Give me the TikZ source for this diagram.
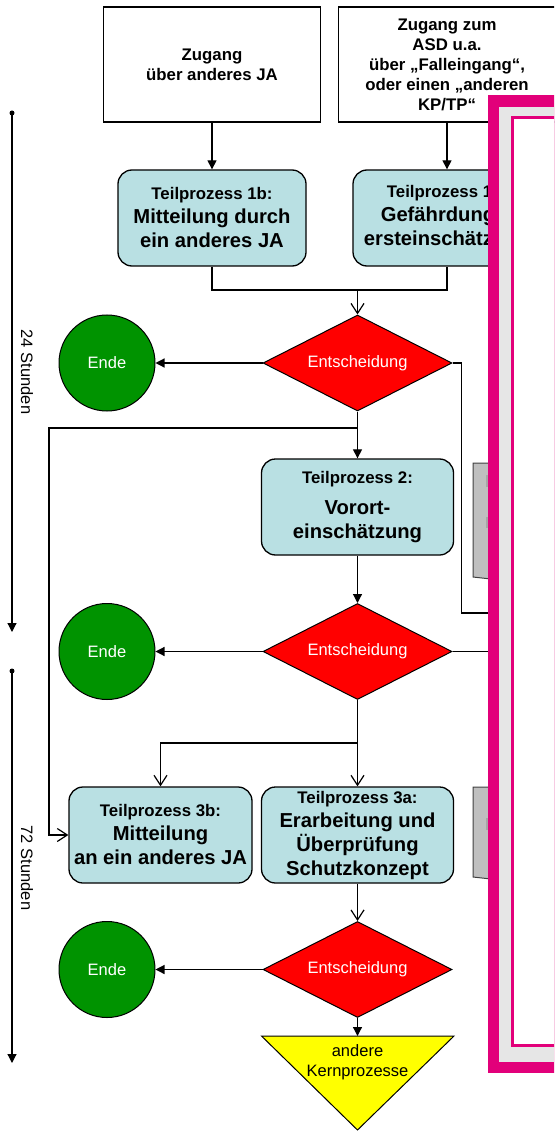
\documentclass[tikz,border=0pt]{standalone}
\usepackage{fontspec}
\setmainfont{Liberation Sans}
\usepackage{tikz}
\usetikzlibrary{arrows.meta,positioning,shapes.geometric}
\usepackage{xcolor}
\definecolor{tpblue}{HTML}{B9E0E3}
\definecolor{endgreen}{HTML}{009300}
\definecolor{decred}{HTML}{FF0000}
\definecolor{kpyellow}{HTML}{FFFF00}
\definecolor{pmag}{HTML}{E2007A}
\definecolor{pgray}{HTML}{E6E6E6}
\definecolor{docgray}{HTML}{BFBFBF}
\newcommand{\tpsmall}{\fontsize{16.8}{20}\selectfont}
\newcommand{\tpbig}{\fontsize{20.2}{24}\selectfont}
\newcommand{\tpplain}{\fontsize{16.5}{20}\selectfont}
\tikzset{
  startbox/.style = {draw, line width=1.3pt, rectangle, minimum width=217pt,
                     minimum height=115pt, align=center, inner sep=0pt,
                     font=\bfseries\tpsmall},
  tpbox/.style    = {draw, line width=1.3pt, rectangle, rounded corners=14pt,
                     fill=tpblue, minimum height=96pt, align=center,
                     inner sep=0pt, font=\bfseries\tpbig},
  decision/.style = {draw, line width=1pt, diamond, aspect=2, fill=decred,
                     minimum width=189pt, minimum height=96pt, inner sep=0pt,
                     text=white, font=\tpplain},
  endnode/.style  = {draw, line width=1pt, circle, fill=endgreen,
                     minimum size=96pt, inner sep=0pt, text=white, font=\tpplain},
  sig/.style      = {-{Triangle[length=9pt,width=9pt]}, line width=1.2pt},
  sigopen/.style  = {-{Straight Barb[length=10pt,width=13pt]}, line width=1.2pt},
  wire/.style     = {line width=1.2pt},
}

\begin{document}
\begin{tikzpicture}[x=1pt,y=-1pt]
\useasboundingbox (0,0) rectangle (554,1131);
\clip (0,0) rectangle (554,1131);
% entry boxes
\node[startbox] (za) at (212,64.5) {Zugang\\über anderes JA};
\node[startbox] (zb) at (447,64.5) {Zugang zum\\ASD u.a.\\über „Falleingang“,\\oder einen „anderen\\KP/TP“};
% sub-processes
\node[tpbox, minimum width=188pt] (tp1b) at (212,218) {{\tpsmall Teilprozess 1b:}\\Mitteilung durch\\ein anderes JA};
\node[tpbox, minimum width=188pt] (tp1a) at (447,218) {{\tpsmall Teilprozess 1a:}\\Gefährdungs-\\ersteinschätzung};
\node[tpbox, minimum width=192pt] (tp2) at (357.5,507) {{\tpsmall Teilprozess 2:}\\[7pt]Vorort-\\einschätzung};
\node[tpbox, minimum width=183pt] (tp3b) at (160.5,835) {{\tpsmall Teilprozess 3b:}\\Mitteilung\\an ein anderes JA};
\node[tpbox, minimum width=192pt] (tp3a) at (357.5,835) {{\tpsmall Teilprozess 3a:}\\Erarbeitung und\\Überprüfung\\Schutzkonzept};
% decisions and ends
\foreach \n/\y in {1/363, 2/651.5, 3/969.5}{
  \node[decision] (d\n) at (357.5,\y) {Entscheidung};
  \node[endnode] (e\n) at (107,\y) {Ende};
  \draw[sig] (d\n.west) -- (e\n.east);}
% other core processes
\draw[line width=1pt, fill=kpyellow] (261.5,1036) -- (454,1036) -- (357.5,1130) -- cycle;
\coordinate (kptop) at (357.5,1036);
\node[font=\tpplain, align=center] (kp) at (357.5,1062) {andere\\Kernprozesse};
% time axis
\coordinate (t1) at (12,113);
\coordinate (t1e) at (12,632);
\coordinate (t2) at (12,671);
\coordinate (t2e) at (12,1063);
\fill (t1) circle (2.5pt);
\fill (t2) circle (2.5pt);
\draw[sig] (t1) -- (t1e);
\draw[sig] (t2) -- (t2e);
\node[rotate=-90, font=\tpplain] (h24) at (27,372) {24 Stunden};
\node[rotate=-90, font=\tpplain] (h72) at (27,868) {72 Stunden};
% connectors
\coordinate (m1) at (357.5,290);
\coordinate (b1) at (357.5,428);
\coordinate (lft) at (49,428);
\coordinate (b2) at (357.5,743);
\coordinate (p1) at (495,613);
\coordinate (p2) at (495,651.5);
\draw[sig] (za.south) -- (tp1b.north);
\draw[sig] (zb.south) -- (tp1a.north);
\draw[wire] (tp1b.south) |- (m1) -| (tp1a.south);
\draw[sigopen] (m1) -- (d1.north);
\draw[wire] (d1.east) -- ++(9,0) |- (p1);
\draw[sig] (d1.south) -- (tp2.north);
\draw[sigopen] (b1) -- (lft) |- (tp3b.west);
\draw[sig] (tp2.south) -- (d2.north);
\draw[wire] (d2.east) -- (p2);
\draw[wire] (d2.south) -- (b2);
\draw[sigopen] (b2) -| (tp3b.north);
\draw[sigopen] (b2) -- (tp3a.north);
\draw[sigopen] (tp3a.south) -- (d3.north);
\draw[sig] (d3.south) -- (kptop);
% documents behind the panel
\draw[fill=docgray, draw=black!75, line width=1pt] (473,463) -- (500,463) -- (500,580) -- (473,577) -- cycle;
\draw[fill=docgray, draw=black!75, line width=1pt] (473,787) -- (500,787) -- (500,880) -- (473,877) -- cycle;
\fill[black!35] (486,475) rectangle (495,487);
\fill[black!35] (486,517) rectangle (495,528);
\fill[black!35] (486,818) rectangle (495,830);
% overlay panel
\fill[pmag] (488,95) rectangle (560,1073);
\fill[pgray] (499,107) rectangle (560,1062);
\fill[pmag] (511,116) rectangle (560,1047);
\fill[white] (514,119) rectangle (560,1044);
\end{tikzpicture}
\end{document}
